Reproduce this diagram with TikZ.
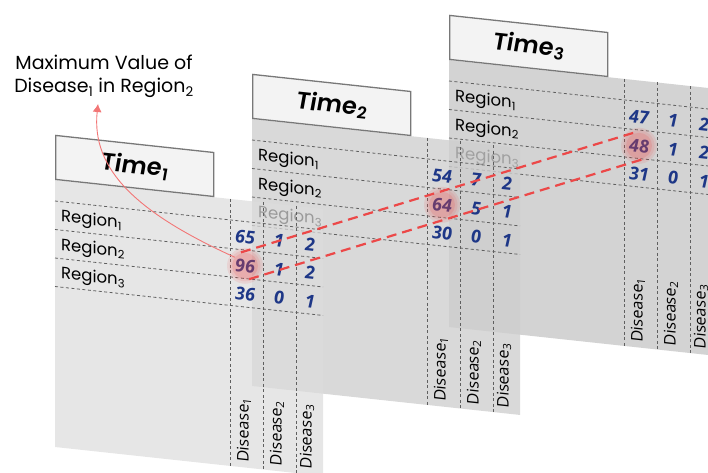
\documentclass[tikz,border=0pt]{standalone}
\usepackage{fontspec}
\setmainfont{Poppins}
\newfontfamily\opensans{Open Sans}
\newfontfamily\titlefont{Poppins SemiBold Italic}
\usepackage{tikz}
\usetikzlibrary{arrows.meta,calc}

\definecolor{numblue}{RGB}{30,55,135}
\definecolor{peakred}{RGB}{236,72,72}
\definecolor{pointred}{RGB}{242,118,118}
\definecolor{gridgray}{RGB}{95,95,95}
\definecolor{boxgray}{RGB}{120,120,120}
\definecolor{boxfill}{RGB}{243,243,243}
\definecolor{sheetone}{RGB}{220,220,220}
\definecolor{sheettwo}{RGB}{206,206,206}
\definecolor{sheetthree}{RGB}{211,211,211}

% one time slice, drawn in its own slanted frame
\newcommand{\timesheet}[4]{%
  \fill[#2, fill opacity=#3] (0,0) rectangle (268,267);
  \node[titlebox] (time#1) at (0,0) {Time\textsubscript{#1}};
  \foreach \ypos in {21,49.5,78,106.5}
    \draw[gridline] (0,\ypos) -- (268,\ypos);
  \foreach \xpos in {175,208,241}
    \draw[gridline] (\xpos,0) -- (\xpos,267);
  \foreach \row in {1,2,3}
    \node[regionlabel] (t#1reg\row) at (6,{12.5+28.5*\row}) {Region\textsubscript{\row}};
  \foreach \xpos [count=\col] in {189,222,252}
    \node[diseaselabel] (t#1dis\col) at (\xpos,262) {Disease\textsubscript{\col}};
  \foreach \va/\vb/\vc [count=\row] in {#4} {
    \node[numcell] (t#1n\row1) at (190,{8.25+28.5*\row}) {\va};
    \node[numcell] (t#1n\row2) at (224,{8.25+28.5*\row}) {\vb};
    \node[numcell] (t#1n\row3) at (255,{8.25+28.5*\row}) {\vc};
  }%
}

\begin{document}
\begin{tikzpicture}[x=1pt, y=-1pt]
\tikzstyle{titlebox}=[draw=boxgray, line width=1.3pt, fill=boxfill, anchor=south west, minimum width=158pt, minimum height=44pt, inner sep=0pt, font=\titlefont\fontsize{24}{28}\selectfont]
\tikzstyle{gridline}=[gridgray, line width=0.8pt, dash pattern=on 3pt off 2.5pt]
\tikzstyle{regionlabel}=[anchor=base west, inner sep=0pt, font=\fontsize{16.5}{19}\selectfont]
\tikzstyle{diseaselabel}=[anchor=west, rotate=90, inner sep=0pt, font=\opensans\fontsize{16}{19}\selectfont]
\tikzstyle{numcell}=[inner sep=0pt, text=numblue, font=\opensans\fontsize{18}{21}\selectfont\bfseries\itshape]
\tikzstyle{peak}=[circle, minimum size=26pt, inner sep=0pt, fill=peakred, fill opacity=0.17]
\tikzstyle{peakglow}=[fill=peakred, fill opacity=0.12]
\tikzstyle{peakline}=[peakred, line width=2.2pt, dash pattern=on 10pt off 6pt]
\tikzstyle{pointer}=[pointred, line width=0.9pt, -{Latex[length=8pt, width=9pt]}]
\tikzstyle{maxlabel}=[anchor=south, align=center, inner sep=2pt, font=\fontsize{19}{23}\selectfont]
\useasboundingbox (0,0) rectangle (708,472);

% slices, back to front
\begin{scope}[shift={(449,60)}, yslant=-0.108, transform shape]
\timesheet{3}{sheetthree}{1}{47/1/2, 48/1/2, 31/0/1}
\end{scope}
\begin{scope}[shift={(252,119)}, yslant=-0.108, transform shape]
\timesheet{2}{sheettwo}{0.78}{54/7/2, 64/5/1, 30/0/1}
\end{scope}
\begin{scope}[shift={(55,180)}, yslant=-0.108, transform shape]
\timesheet{1}{sheetone}{0.7}{65/1/2, 96/1/2, 36/0/1}
\end{scope}

% highlighted maxima
\foreach \k in {1,2,3} {
  \fill[peakglow] (t\k n21) circle (18pt);
  \fill[peakglow] (t\k n21) circle (15.5pt);
  \node[peak] (peak\k) at (t\k n21) {};
}
\draw[peakline] ($(peak1.center)!14pt!90:(peak3.center)$) -- ($(peak3.center)!14pt!-90:(peak1.center)$);
\draw[peakline] ($(peak1.center)!14pt!-90:(peak3.center)$) -- ($(peak3.center)!14pt!90:(peak1.center)$);

\node[maxlabel] (maxlabel) at (104,100) {Maximum Value of\\Disease\textsubscript{1} in Region\textsubscript{2}};
\coordinate (maxtip) at ($(maxlabel.south)+(-6,4)$);
\draw[pointer] (peak1.140) .. controls +(-97,-44) and +(-7,66) .. (maxtip);
\end{tikzpicture}
\end{document}
